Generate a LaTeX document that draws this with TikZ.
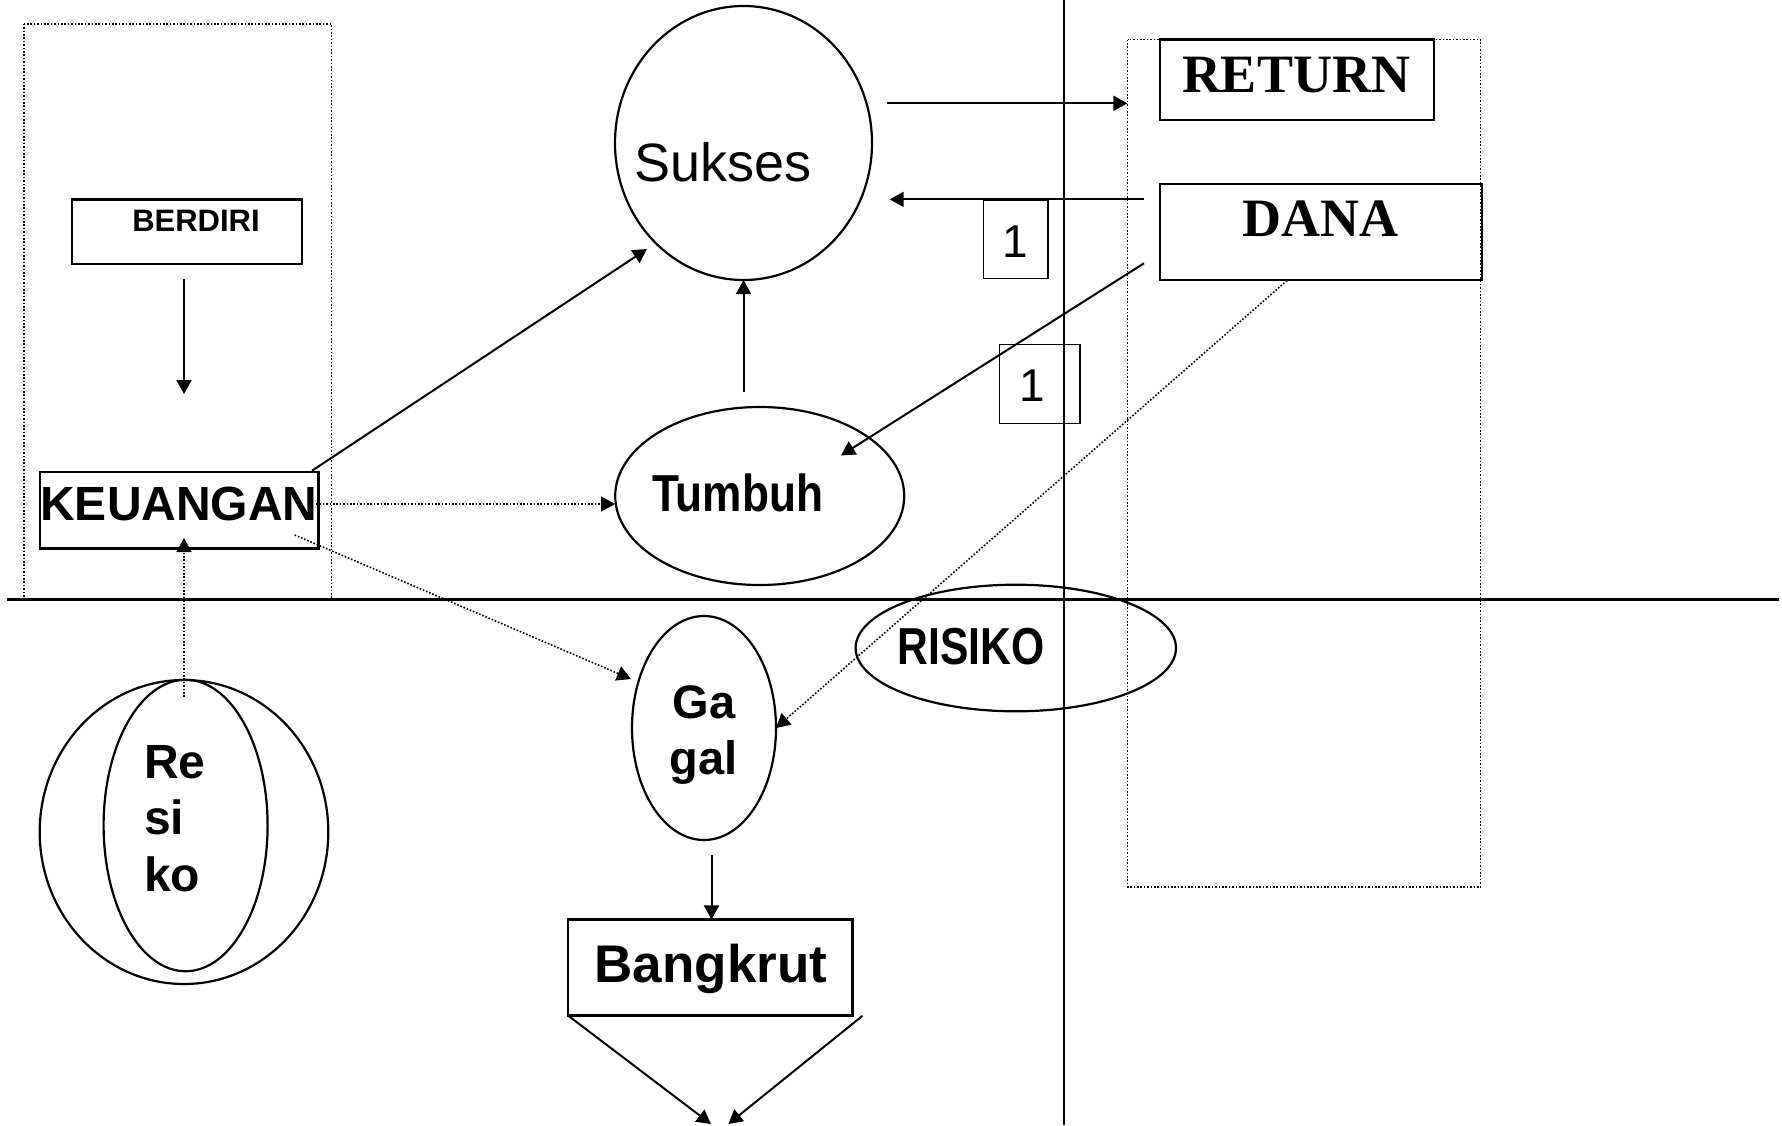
\documentclass[tikz,border=0pt]{standalone}
\usepackage{graphicx}
\usepackage{fontspec}
\setmainfont{Liberation Sans}
\newfontfamily\tnr{Liberation Serif}
\usetikzlibrary{shapes.geometric,arrows.meta}
\tikzset{
  shapeline/.style={draw, line width=1.1pt, inner sep=0pt, outer sep=0pt},
  boxnode/.style={shapeline, rectangle},
  thinbox/.style={draw, line width=0.8pt, inner sep=0pt, outer sep=0pt, rectangle},
  ellnode/.style={shapeline, ellipse},
  dotbox/.style={draw, line width=0.8pt, dash pattern=on 0.8pt off 0.9pt},
  axisline/.style={line width=1.2pt},
  arr/.style={line width=1pt, -{Triangle[length=7pt,width=7.5pt]}},
  dotarr/.style={line width=0.8pt, dash pattern=on 0.8pt off 0.9pt, -{Triangle[length=7pt,width=7.5pt]}},
  txt/.style={inner sep=0pt, outer sep=0pt, anchor=base},
  txtw/.style={inner sep=0pt, outer sep=0pt, anchor=base west},
}
\newcommand{\fs}[1]{\fontsize{#1}{#1}\selectfont}
\begin{document}
\begin{tikzpicture}[x=0.5pt,y=-0.5pt]
\useasboundingbox (0,0) rectangle (1782,1125);

% frames and axes
\draw[dotbox] (23.7,23.7) rectangle (331.4,599);
\draw[dotbox] (1127.5,39.6) rectangle (1480.5,887);
\draw[axisline] (7,599.5) -- (1779,599.5);
\draw[axisline] (1064,0) -- (1064,1125);

% boxes
\node[boxnode, minimum width=115.15pt, minimum height=32.35pt] (berdiri) at (187.15,231.75) {};
\node[boxnode, minimum width=139.3pt, minimum height=38.25pt] (keu) at (179.1,510.15) {};
\node[boxnode, minimum width=142.2pt, minimum height=48.05pt] (bangkrut) at (710.2,967.45) {};
\node[boxnode, minimum width=137.1pt, minimum height=40.4pt] (return) at (1297.1,79.8) {};
\node[boxnode, minimum width=160.9pt, minimum height=48.2pt] (dana) at (1320.9,231.9) {};
\node[thinbox, minimum width=32.1pt, minimum height=39.4pt] (onea) at (1015.6,239.2) {};
\node[thinbox, minimum width=40.25pt, minimum height=39.6pt] (oneb) at (1039.75,384) {};

% ellipses
\node[ellnode, minimum width=128.5pt, minimum height=137pt] (sukses) at (743.5,143) {};
\node[ellnode, minimum width=144.5pt, minimum height=89pt] (tumbuh) at (759.7,496) {};
\node[ellnode, minimum width=72pt, minimum height=112pt] (gagal) at (704,728) {};
\node[ellnode, minimum width=160.2pt, minimum height=63.3pt] (risiko) at (1015.8,648) {};
\node[ellnode, minimum width=144.3pt, minimum height=152pt] (resout) at (184,832) {};
\node[ellnode, minimum width=82pt, minimum height=145.75pt] (resin) at (185.6,825.5) {};

% texts
\node[txt, font=\fs{15.5}\bfseries] (tberdiri) at (196,231.9) {BERDIRI};
\node[txt, font=\fs{24}\bfseries] (tkeu) at (179,520.5) {KEUANGAN};
\node[txt, font=\fs{27}] (tsukses) at (723,181.8) {Sukses};
\node[txt, font=\fs{26}\bfseries] (ttumbuh) at (737.5,511) {\scalebox{0.85}[1]{Tumbuh}};
\node[txt, font=\fs{26}\bfseries] (trisiko) at (970.8,664.4) {\scalebox{0.82}[1]{RISIKO}};
\node[txt, font=\fs{23.5}\bfseries] (tga) at (704,718) {Ga};
\node[txt, font=\fs{23.5}\bfseries] (tgal) at (703.3,774.4) {gal};
\node[txt, font=\fs{26.5}\bfseries] (tbangkrut) at (711,982) {Bangkrut};
\node[txt, font=\fs{27}\tnr\bfseries] (treturn) at (1296,92.6) {RETURN};
\node[txt, font=\fs{27}\tnr\bfseries] (tdana) at (1320.5,236.5) {DANA};
\node[txt, font=\fs{23}] (tonea) at (1015,257.2) {1};
\node[txt, font=\fs{23}] (toneb) at (1032.5,401.8) {1};
\node[txtw, font=\fs{24}\bfseries] (tre) at (144,778) {Re};
\node[txtw, font=\fs{24}\bfseries] (tsi) at (144,834.2) {si};
\node[txtw, font=\fs{24}\bfseries] (tko) at (144,891.8) {ko};

% connector ends
\coordinate (b1) at (184,279);
\coordinate (b2) at (184,394);
\coordinate (k1) at (312,470.7);
\coordinate (s1) at (647,249);
\coordinate (k2) at (316,504);
\coordinate (t1) at (615,504);
\coordinate (k3) at (294.7,535);
\coordinate (g1) at (631,679);
\coordinate (r1) at (184,697);
\coordinate (k4) at (184,538);
\coordinate (t2) at (743.5,392.3);
\coordinate (s2) at (887,103.3);
\coordinate (f1) at (1127.4,103.3);
\coordinate (d1) at (1144,199.4);
\coordinate (s3) at (889.7,199.4);
\coordinate (d2) at (1144,263.3);
\coordinate (t3) at (841,455.4);
\coordinate (d3) at (1287,280.5);
\coordinate (g2) at (711.5,855);
\coordinate (e1) at (710.9,1124);
\coordinate (bx) at (862.6,1015.7);
\coordinate (e2) at (728.3,1124);

% connectors
\draw[arr] (b1) -- (b2);
\draw[arr] (k1) -- (s1);
\draw[dotarr] (k2) -- (t1);
\draw[dotarr] (k3) -- (g1);
\draw[dotarr] (r1) -- (k4);
\draw[arr] (t2) -- (t2 |- sukses.south);
\draw[arr] (s2) -- (f1);
\draw[arr] (d1) -- (s3);
\draw[arr] (d2) -- (t3);
\draw[dotarr] (d3) -- (gagal.east);
\draw[arr] (g2) -- (g2 |- bangkrut.north);
\draw[arr] (bangkrut.south west) -- (e1);
\draw[arr] (bx) -- (e2);
\end{tikzpicture}
\end{document}
